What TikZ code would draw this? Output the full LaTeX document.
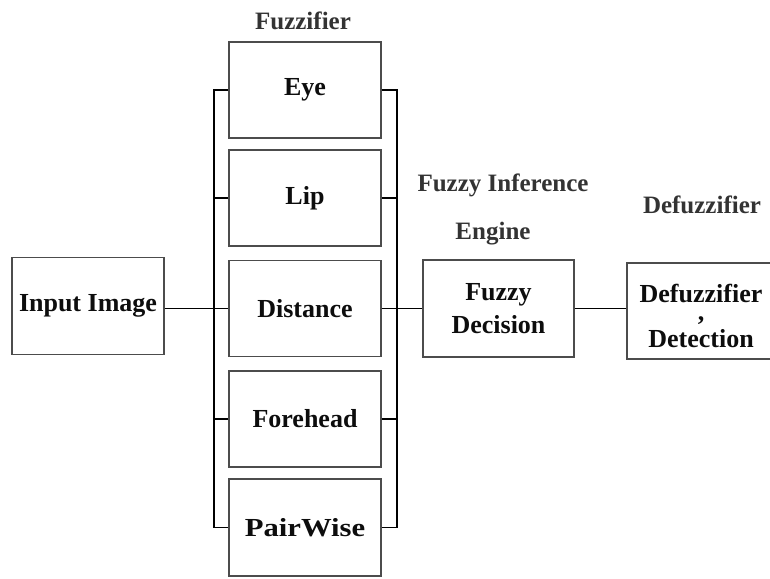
\documentclass[tikz,border=0pt]{standalone}
\usepackage{fontspec}
\setmainfont{Liberation Serif}
\begin{document}
\begin{tikzpicture}[x=1pt,y=-1pt,
  blk/.style={draw=black!70,line width=1.3pt,minimum width=152pt,minimum height=96pt,inner sep=0pt,
    font=\fontsize{26}{31}\selectfont\bfseries,text=black!95,align=center},
  lbl/.style={font=\fontsize{25}{30}\selectfont\bfseries,text=black!80,inner sep=0pt},
  wire/.style={line width=1.6pt,black}]
\clip (0,0) rectangle (770,578);
\fill[white] (0,0) rectangle (770,578);
\node[blk,minimum height=97pt] (input) at (88,306) {Input Image};
\node[blk] (eye) at (305,90) {Eye};
\node[blk] (lip) at (305,198) {Lip};
\node[blk] (dist) at (305,308.5) {Distance};
\node[blk] (fore) at (305,419) {Forehead};
\node[blk,minimum height=97pt] (pair) at (305,527.5) {\scalebox{1.18}[1]{PairWise}};
\node[blk,minimum width=151pt,minimum height=97pt] (fd) at (498.5,308.5) {Fuzzy\\[2pt]Decision};
\node[blk,minimum width=148pt,minimum height=96pt] (def) at (701,311) {\rule{0pt}{28pt}Defuzzifier\\[-13pt],\\[-4pt]Detection};
\node[lbl] (l1) at (303,21) {Fuzzifier};
\node[lbl] (l2) at (503,185) {Fuzzy Inference};
\node[lbl] (l3) at (493,234) {Engine};
\node[lbl] (l4) at (702,205) {Defuzzifier};
\coordinate (lb) at (214,0);
\coordinate (rb) at (397,0);
\draw[wire] (eye.west) -- (eye.west -| lb) -- (pair.west -| lb) -- (pair.west);
\draw[wire] (lip.west -| lb) -- (lip.west);
\draw[wire] (fore.west -| lb) -- (fore.west);
\draw[wire] (input.east |- dist.west) -- (dist.west);
\draw[wire] (eye.east) -- (eye.east -| rb) -- (pair.east -| rb) -- (pair.east);
\draw[wire] (lip.east -| rb) -- (lip.east);
\draw[wire] (fore.east -| rb) -- (fore.east);
\draw[wire] (dist.east) -- (fd.west |- dist.east);
\draw[wire] (fd.east) -- (def.west |- fd.east);
\end{tikzpicture}
\end{document}
